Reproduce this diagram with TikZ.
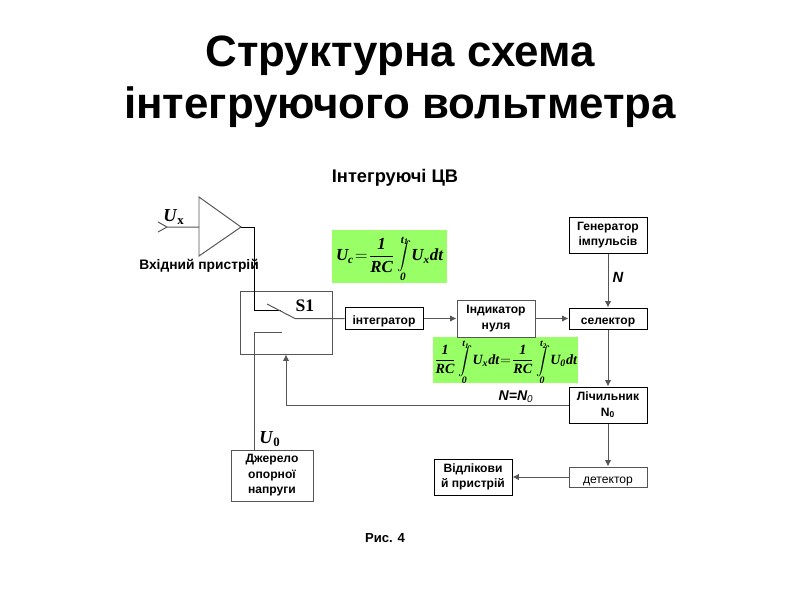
\documentclass[tikz,border=0pt]{standalone}
\usepackage{fontspec}
\setmainfont{Liberation Sans}
\newfontfamily\serfont{Liberation Serif}
\setmathrm{Liberation Serif}[BoldFont=Liberation Serif Bold Italic]
\usetikzlibrary{arrows.meta}
\definecolor{formgreen}{HTML}{99FF66}
\definecolor{linegray}{HTML}{555555}
\newcommand{\fb}[1]{\mathbf{#1}}
\newcommand{\lint}[1]{\mkern-3mu\mathop{\rlap{\raisebox{12.5pt}[0pt][0pt]{\hspace{4.5pt}$\scriptstyle\fb{t}_{\fb{#1}}$}}\rlap{\raisebox{-14pt}[0pt][0pt]{\hspace{4pt}$\scriptstyle\fb{0}$}}\int}\nolimits\mkern-3mu}
\tikzset{
  >={Latex[length=4.5pt,width=4.5pt]},
  wire/.style={draw=linegray,line width=0.7pt},
  blackbox/.style={draw=black,line width=0.7pt,fill=white,minimum width=1.95cm,inner sep=0pt,align=center,
    font=\fontsize{8.6}{11}\selectfont\bfseries,execute at begin node={\vrule width 0pt height 10.5pt}},
  graybox/.style={blackbox,draw=linegray},
  manyline/.style={execute at begin node={\vrule width 0pt height 14pt}},
  formula/.style={fill=formgreen,inner sep=0pt,text height=12pt,text depth=6pt},
  caption/.style={font=\fontsize{9.3}{11}\selectfont\bfseries,inner sep=0pt}
}
\begin{document}
\begin{tikzpicture}[x=0.025cm,y=-0.025cm]
  \useasboundingbox (0,0) rectangle (800,600);
  % Заголовок
  \node[align=center,inner sep=0pt,font=\fontsize{31.2}{37}\selectfont\bfseries] (title) at (400,82) {Структурна схема\\інтегруючого вольтметра};
  \node[caption,font=\fontsize{13}{15}\selectfont\bfseries] (group) at (395,178) {Інтегруючі ЦВ};
  \node[caption] (fig) at (385,538) {Рис. 4};
  % Формули
  \node[formula,font=\fontsize{12}{14}\selectfont,minimum width=2.875cm,minimum height=1.325cm] (formc) at (389.5,256.5)
    {$\thickmuskip=1mu\displaystyle\fb{U}_{\fb{c}}=\frac{\fb{1}}{\fb{RC}}\lint{1}\fb{U}_{\fb{x}}\fb{dt}$};
  \node[formula,font=\fontsize{10}{12}\selectfont,minimum width=3.625cm,minimum height=1.15cm] (formeq) at (505.5,360)
    {$\thickmuskip=1mu\displaystyle\frac{\fb{1}}{\fb{RC}}\lint{1}\fb{U}_{\fb{x}}\fb{dt}=\frac{\fb{1}}{\fb{RC}}\lint{2}\fb{U}_{\fb{0}}\fb{dt}$};
  % Блоки
  \node[graybox,minimum width=2.3cm,minimum height=1.575cm] (switch) at (286,322.5) {};
  \node[blackbox,minimum height=0.55cm] (integ) at (384,318.5) {інтегратор};
  \node[graybox,manyline,minimum height=0.925cm] (indic) at (496,318.5) {Індикатор\\нуля};
  \node[blackbox,manyline,minimum height=0.9cm] (gen) at (608,235) {Генератор\\імпульсів};
  \node[blackbox,minimum height=0.525cm] (sel) at (608,318.5) {селектор};
  \node[blackbox,manyline,minimum height=0.9cm] (count) at (608,405) {Лічильник\\N\textsubscript{0}};
  \node[graybox,minimum height=0.5cm,font=\fontsize{8.6}{11}\selectfont] (det) at (608,477) {детектор};
  \node[blackbox,manyline,minimum height=0.9cm] (read) at (473,477) {Відлікови\\й пристрій};
  \node[graybox,manyline,minimum width=2.05cm,minimum height=1.275cm] (src) at (272,475.5) {Джерело\\опорної\\напруги};
  % Вхідний пристрій
  \coordinate (ampin) at (199,227);
  \coordinate (ampout) at (241,227);
  \coordinate (inend) at (167,227);
  \draw[wire] (199,197) -- (ampout) -- (199,256) -- cycle;
  \draw[wire] (158,222) -- (inend) -- (158,232) (inend) -- (ampin);
  \node[caption,font=\fontsize{9.8}{11}\selectfont\bfseries] (inlab) at (199,266) {Вхідний пристрій};
  % Ключ S1
  \coordinate (swin) at (254,310);
  \coordinate (swinend) at (281,310);
  \coordinate (bladetop) at (267,304);
  \coordinate (bladeend) at (295,318.5);
  \coordinate (contact) at (254,332);
  \coordinate (contactend) at (282,332);
  \draw[wire,draw=black] (ampout) -| (swin) -- (swinend);
  \draw[wire] (bladetop) -- (bladeend) -- (integ.west);
  \draw[wire] (contactend) -- (contact) -- (contact |- src.north);
  \node[inner sep=0pt,font=\fontsize{12.5}{15}\serfont\bfseries] (s1) at (305,306) {S1};
  % Стрілки
  \draw[wire,->] (integ) -- (indic);
  \draw[wire,->] (indic) -- (sel);
  \draw[wire,->] (gen) -- (sel);
  \draw[wire,->] (sel) -- (count);
  \draw[wire,->] (count) -- (det);
  \draw[wire,->] (det) -- (read);
  \draw[wire,->] (count.west) -| (switch.south);
  % Підписи
  \node[inner sep=0pt,font=\fontsize{13}{16}\serfont\bfseries] (ux) at (174,217) {\textit{U}\textsubscript{x}};
  \node[inner sep=0pt,font=\fontsize{13}{16}\serfont\bfseries] (u0) at (270,439) {\textit{U}\textsubscript{0}};
  \node[inner sep=0pt,font=\fontsize{10.5}{12}\selectfont\bfseries\itshape] (n) at (618,277) {N};
  \node[inner sep=0pt,font=\fontsize{10}{12}\selectfont\itshape] (nn) at (516,397) {\textbf{N=N}\textsubscript{0}};
\end{tikzpicture}
\end{document}
